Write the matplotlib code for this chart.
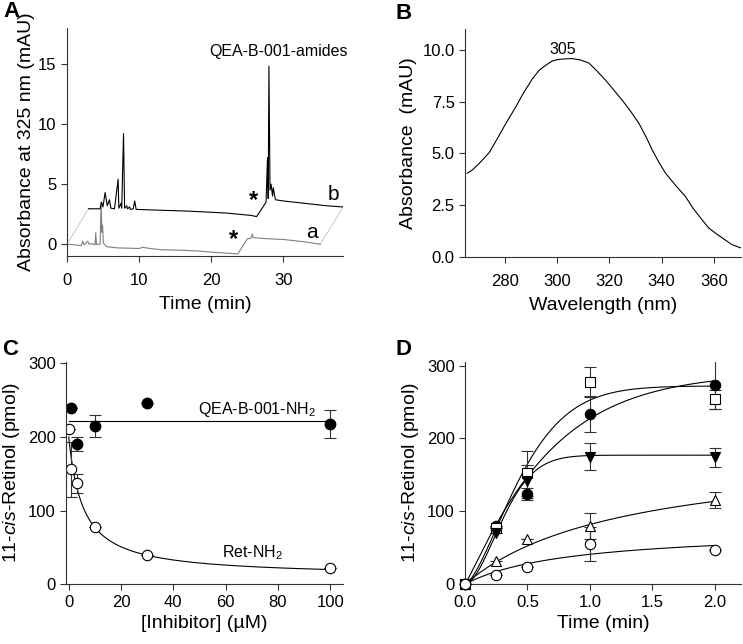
import numpy as np
import matplotlib
matplotlib.use("Agg")
import matplotlib.pyplot as plt

plt.rcParams.update({
    "font.family": ["Liberation Sans", "DejaVu Sans"],
    "mathtext.fontset": "custom",
    "mathtext.rm": "Liberation Sans",
    "mathtext.it": "Liberation Sans:italic",
    "font.size": 12,
    "axes.linewidth": 0.8,
    "axes.edgecolor": "#333333",
    "xtick.color": "#333333",
    "ytick.color": "#333333",
    "xtick.labelcolor": "black",
    "ytick.labelcolor": "black",
    "xtick.direction": "out",
    "ytick.direction": "out",
    "xtick.major.size": 4,
    "ytick.major.size": 4,
    "xtick.major.width": 0.8,
    "ytick.major.width": 0.8,
    "xtick.labelsize": 12,
    "ytick.labelsize": 12,
    "axes.labelsize": 14,
})

# ── A: HPLC chromatograms ─────────────────────────────────────────────────
trace_a_t = [0, 1.0, 2.0, 2.2, 2.4, 2.9, 3.1, 3.5, 3.9, 4.0, 4.1, 4.6, 4.75, 4.85,
             4.95, 5.05, 5.5, 7.0, 10.0, 10.5, 11.5, 13.0, 16.0, 18.0, 20.0, 23.7,
             25.0, 25.5, 25.7, 25.8, 28.0, 30.0, 33.0, 35.1]
trace_a_v = [0.0, -0.05, -0.1, 0.25, -0.05, 0.25, 0.0, 0.05, -0.05, 0.95, 0.0, 0.0,
             3.5, 1.0, 1.6, 0.1, -0.2, -0.3, -0.35, -0.25, -0.35, -0.45, -0.5, -0.55,
             -0.65, -0.8, 0.45, 0.5, 0.85, 0.55, 0.45, 0.4, 0.2, 0.0]
trace_b_t = [3.0, 4.6, 4.8, 5.0, 5.3, 5.6, 5.9, 6.1, 6.6, 7.1, 7.2, 7.5, 7.6, 7.85,
             8.0, 8.3, 8.4, 8.7, 8.8, 9.2, 9.4, 9.6, 12.0, 17.0, 22.0, 25.5, 26.3,
             27.6, 27.8, 27.9, 28.0, 28.15, 28.3, 28.5, 28.6, 28.9, 30.0, 33.0, 36.0, 38.3]
trace_b_v = [2.95, 2.95, 3.5, 3.1, 4.3, 3.2, 3.7, 3.0, 2.95, 5.4, 3.0, 3.4, 3.0, 9.2,
             3.0, 3.2, 2.95, 3.1, 2.9, 2.95, 3.6, 2.9, 2.85, 2.75, 2.6, 2.4, 2.3,
             3.5, 7.2, 3.8, 14.8, 4.5, 5.0, 4.0, 4.7, 3.7, 3.6, 3.4, 3.2, 3.1]

# ── B: UV/Vis spectrum ────────────────────────────────────────────────────
wl = [265.5, 267.5, 270, 273.9, 277, 280.3, 284.1, 287, 290.5, 293, 295.6, 298, 300,
      303, 305.8, 309, 312.1, 315, 318.5, 322, 324.9, 328, 331.3, 334, 336.4, 339,
      341.5, 345, 349.1, 352, 355.5, 358, 360.6, 364, 367, 370.5]
absb = [4.04, 4.2, 4.5, 5.03, 5.7, 6.44, 7.24, 7.9, 8.6, 9.0, 9.25, 9.45, 9.52,
        9.56, 9.57, 9.5, 9.36, 9.0, 8.53, 8.0, 7.56, 7.05, 6.44, 5.8, 5.16, 4.55,
        4.04, 3.5, 2.92, 2.35, 1.79, 1.4, 1.15, 0.85, 0.59, 0.43]

# ── C: inhibition ─────────────────────────────────────────────────────────
qea_x = [1, 3, 10, 30, 100]
qea_y = [240, 191, 215, 246, 217]
qea_err = [0, 9.5, 15, 0, 19]
qea_mean = 222
ret_x = [0, 1, 3, 10, 30, 100]
ret_y = [211, 156, 137, 77, 40, 22]
ret_err = [0, 37, 12.5, 0, 0, 0]
ret_fit = dict(top=190, bottom=10, ic50=5.45)

# ── D: time course ────────────────────────────────────────────────────────
t_pts = [0, 0.25, 0.5, 1.0, 2.0]
d_series = [
    # marker, face, values, errors, fit
    ("o", "black", [0, 80, 124, 233, 274], [0, 0, 8, 24, 33], ("str", 290, 0.68, 1.1)),
    ("s", "white", [0, 77, 152, 278, 254], [0, 0, 31, 20, 13], ("str", 272, 0.524, 1.5)),
    ("v", "black", [0, 70, 141, 175, 174], [0, 0, 23, 19, 13], ("str", 177, 0.369, 1.77)),
    ("^", "white", [0, 32, 62, 80, 116], [0, 0, 0, 18, 11], ("hyp", 185.9, 1.272)),
    ("o", "white", [0, 12, 23, 55, 47], [0, 0, 0, 23, 0], ("hyp", 75.3, 0.84)),
]

fig = plt.figure(figsize=(7.43, 6.44), dpi=100)

def style(ax):
    ax.spines["top"].set_visible(False)
    ax.spines["right"].set_visible(False)

# Panel A
axA = fig.add_axes([0.090, 0.602, 0.372, 0.355])
style(axA)
axA.plot([0, 3.0], [0, 2.95], color="#c8c8c8", lw=0.7)
axA.plot([35.1, 38.3], [0.0, 3.1], color="#c8c8c8", lw=0.7)
axA.plot(trace_a_t, trace_a_v, color="#7f7f7f", lw=0.8)
axA.plot(trace_b_t, trace_b_v, color="black", lw=0.8)
axA.set_xlim(0, 38.3)
axA.set_ylim(-1, 18)
axA.set_xticks([0, 10, 20, 30])
axA.set_yticks([0, 5, 10, 15])
axA.tick_params(axis="x", pad=8)
axA.text(29.3, 16, "QEA-B-001-amides", ha="center", va="center", fontsize=11.5)
axA.text(25.9, 3.6, "*", ha="center", va="center", fontsize=17, fontweight="bold")
axA.text(23.1, 0.4, "*", ha="center", va="center", fontsize=17, fontweight="bold")
axA.text(37.0, 4.1, "b", ha="center", va="center", fontsize=15)
axA.text(34.0, 0.95, "a", ha="center", va="center", fontsize=15)
axA.set_xlabel("Time (min)", labelpad=6)
axA.set_ylabel("Absorbance at 325 nm (mAU)", labelpad=2)

# Panel B
axB = fig.add_axes([0.626, 0.601, 0.371, 0.354])
style(axB)
axB.plot(wl, absb, color="black", lw=0.8)
axB.set_xlim(264.7, 370.3)
axB.set_ylim(0, 11)
axB.set_xticks([280, 300, 320, 340, 360])
axB.set_yticks([0, 2.5, 5.0, 7.5, 10.0])
axB.set_yticklabels(["0.0", "2.5", "5.0", "7.5", "10.0"])
axB.tick_params(axis="x", pad=8)
axB.text(302, 10.0, "305", ha="center", va="center", fontsize=11.5)
axB.set_xlabel("Wavelength (nm)", labelpad=6)
axB.set_ylabel("Absorbance  (mAU)")

# Panel C
axC = fig.add_axes([0.089, 0.093, 0.373, 0.345])
style(axC)
xc = np.linspace(0, 100, 400)
yc = ret_fit["bottom"] + ret_fit["top"] / (1 + xc / ret_fit["ic50"])
axC.plot(xc, yc, color="black", lw=0.8)
axC.plot([0, 100], [qea_mean, qea_mean], color="black", lw=0.8)
axC.errorbar(ret_x, ret_y, yerr=ret_err, fmt="none", ecolor="#333333",
             elinewidth=0.8, capsize=4, capthick=0.8)
axC.errorbar(qea_x, qea_y, yerr=qea_err, fmt="none", ecolor="#333333",
             elinewidth=0.8, capsize=4, capthick=0.8)
axC.plot(ret_x, ret_y, "o", ms=7.5, mfc="white", mec="black", mew=0.8, ls="none")
axC.plot(qea_x, qea_y, "o", ms=7.5, mfc="black", mec="black", ls="none")
axC.set_xlim(-1, 105)
axC.set_ylim(0, 302)
axC.set_xticks([0, 20, 40, 60, 80, 100])
axC.set_yticks([0, 100, 200, 300])
axC.text(72, 237, "QEA-B-001-NH$_2$", ha="center", va="center", fontsize=11.5)
axC.text(70.4, 42.5, "Ret-NH$_2$", ha="center", va="center", fontsize=11.5)
axC.set_xlabel("[Inhibitor] (µM)")
axC.set_ylabel("11-$\\mathit{cis}$-Retinol (pmol)")

# Panel D
axD = fig.add_axes([0.626, 0.093, 0.371, 0.345])
style(axD)
td = np.linspace(0, 2.0, 300)
for mk, fc, vals, errs, fit in d_series:
    if fit[0] == "str":
        _, amp, tau, n = fit
        yd = amp * (1 - np.exp(-(td / tau) ** n))
    else:
        _, amp, k = fit
        yd = amp * td / (k + td)
    axD.plot(td, yd, color="black", lw=0.8)
for mk, fc, vals, errs, fit in d_series:
    axD.errorbar(t_pts, vals, yerr=errs, fmt="none", ecolor="#333333",
                 elinewidth=0.8, capsize=4, capthick=0.8)
for mk, fc, vals, errs, fit in d_series:
    ms = 6.5 if mk == "s" else 7.5
    axD.plot(t_pts, vals, mk, ms=ms, mfc=fc, mec="black", mew=0.8, ls="none",
             clip_on=False, zorder=4)
axD.set_xlim(0, 2.21)
axD.set_ylim(0, 305)
axD.set_xticks([0, 0.5, 1.0, 1.5, 2.0])
axD.set_xticklabels(["0.0", "0.5", "1.0", "1.5", "2.0"])
axD.set_yticks([0, 100, 200, 300])
axD.set_xlabel("Time (min)")
axD.set_ylabel("11-$\\mathit{cis}$-Retinol (pmol)")

for lbl, x, y in [("A", 0.004, 0.998), ("B", 0.532, 0.995), ("C", 0.003, 0.474), ("D", 0.532, 0.474)]:
    fig.text(x, y, lbl, fontsize=16, fontweight="bold", ha="left", va="top")

fig.savefig("out.png", dpi=100)
